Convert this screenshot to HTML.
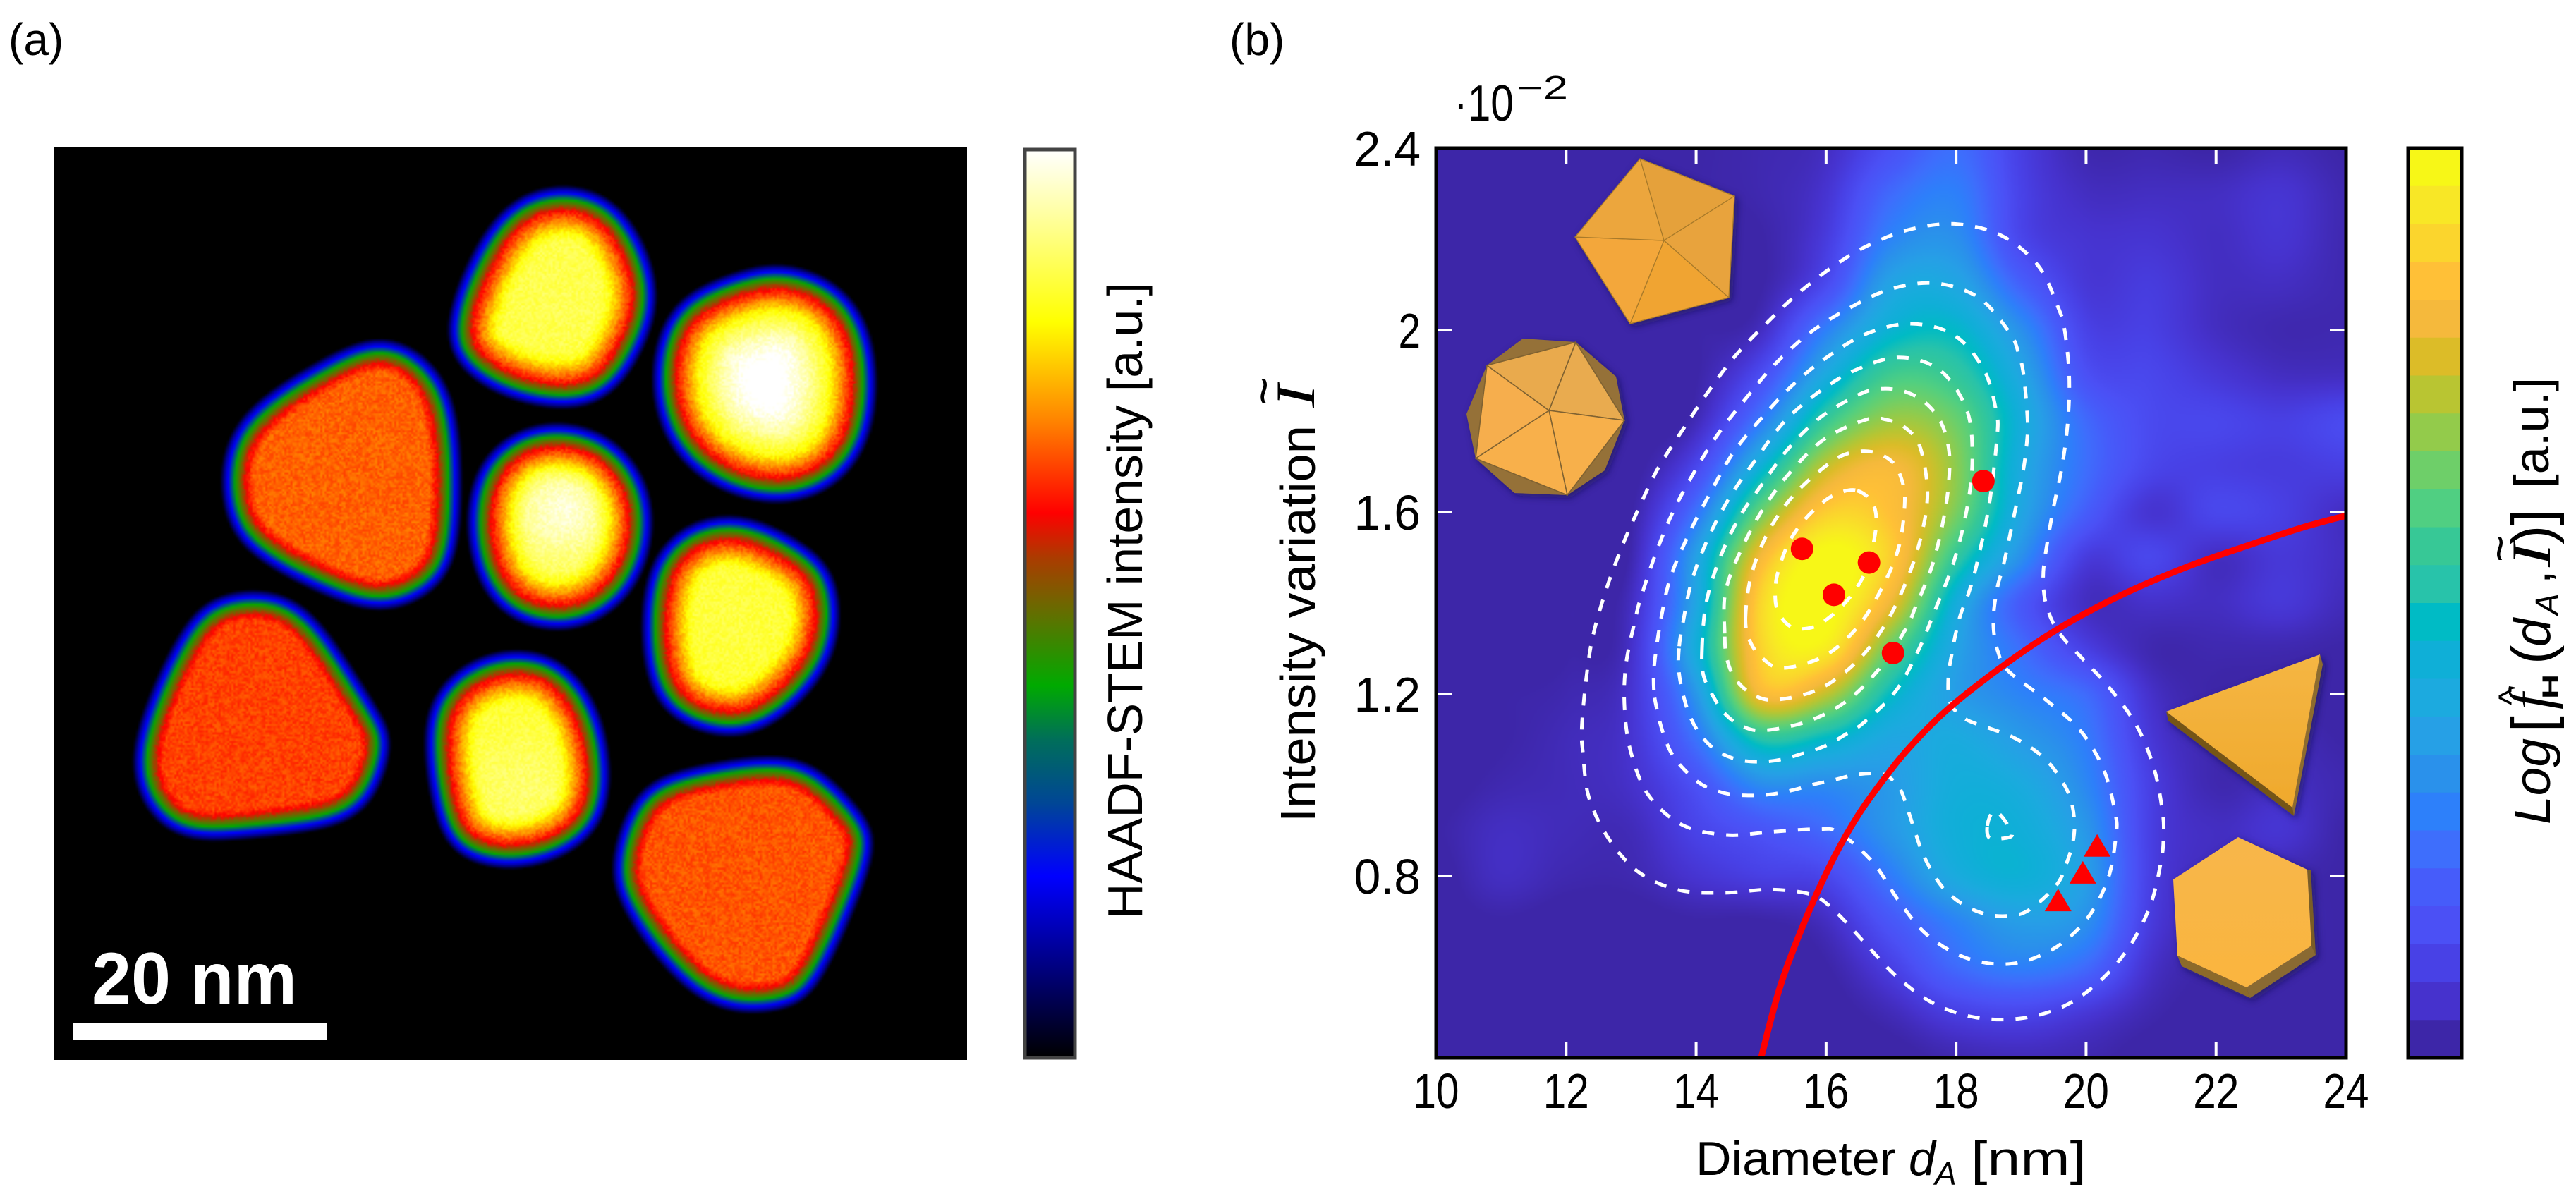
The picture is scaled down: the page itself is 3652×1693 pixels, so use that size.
<!DOCTYPE html>
<html lang="en">
<head>
<meta charset="utf-8">
<title>HAADF-STEM image and density map</title>
<style>
html,body{margin:0;padding:0;background:#fff;}
#page{position:relative;width:3652px;height:1693px;overflow:hidden;background:#fff;}
canvas,svg{position:absolute;display:block;}
text{font-family:"Liberation Sans",sans-serif;fill:#000;}
.mi{font-family:"Liberation Serif",serif;font-style:italic;}
</style>
</head>
<body>
<div id="page">
<canvas id="stem" width="432" height="432" style="left:76px;top:208px;width:1295px;height:1295px"></canvas>
<canvas id="heat" width="645" height="645" style="left:2036px;top:210px;width:1290px;height:1290px"></canvas>
<svg id="chart" width="3652" height="1693" viewBox="0 0 3652 1693" style="left:0;top:0">
<defs>
<linearGradient id="haadfGrad" x1="0" y1="1" x2="0" y2="0">
<stop offset="0" stop-color="#000"/><stop offset=".07" stop-color="#00005a"/><stop offset=".2" stop-color="#0000ff"/><stop offset=".28" stop-color="#004696"/><stop offset=".35" stop-color="#006e5a"/><stop offset=".41" stop-color="#00aa00"/><stop offset=".49" stop-color="#646e00"/><stop offset=".55" stop-color="#aa3c00"/><stop offset=".6" stop-color="#ff0000"/><stop offset=".7" stop-color="#ff8200"/><stop offset=".81" stop-color="#ffff00"/><stop offset=".92" stop-color="#ffff96"/><stop offset="1" stop-color="#fff"/>
</linearGradient>
<linearGradient id="triTop" x1="0" y1="0" x2="0" y2="1"><stop offset="0" stop-color="#f5b644"/><stop offset="1" stop-color="#efa92c"/></linearGradient>
<linearGradient id="hexTop" x1="0" y1="0" x2="0" y2="1"><stop offset="0" stop-color="#f7b64a"/><stop offset="1" stop-color="#fab53f"/></linearGradient>
<filter id="iconShadow" x="-15%" y="-15%" width="130%" height="130%"><feDropShadow dx="4" dy="4" stdDeviation="5" flood-color="#120a40" flood-opacity=".55"/></filter>
</defs>

<text x="12" y="78" font-size="64">(a)</text>
<text x="1743" y="78" font-size="64">(b)</text>

<rect x="104" y="1450" width="359" height="25" fill="#fff"/>
<text x="130" y="1423" font-size="104" font-weight="700" style="fill:#fff" textLength="291" lengthAdjust="spacingAndGlyphs">20 nm</text>

<rect x="1453" y="212" width="71" height="1288" fill="url(#haadfGrad)" stroke="#444" stroke-width="5"/>
<text transform="translate(1619,1303) rotate(-90)" font-size="70" textLength="903" lengthAdjust="spacingAndGlyphs">HAADF-STEM intensity [a.u.]</text>

<g id="contours"></g>
<path id="boundary" fill="none" stroke="#ff0000" stroke-width="9"/>
<g id="markers"></g>

<g filter="url(#iconShadow)" stroke="#a87a2a" stroke-width="1.3" stroke-linejoin="round">
<polygon points="2359,341 2325,225 2459,278" fill="#e5a13a"/>
<polygon points="2359,341 2459,278 2451,422" fill="#e8a33d"/>
<polygon points="2359,341 2451,422 2311,459" fill="#f0a433"/>
<polygon points="2359,341 2311,459 2233,336" fill="#f3a73a"/>
<polygon points="2359,341 2233,336 2325,225" fill="#eca63c"/>
</g>
<g filter="url(#iconShadow)">
<polygon points="2159,480 2234,485 2291,534 2303,596 2275,667 2222,702 2147,699 2092,650 2079,587 2108,518" fill="#957137"/>
<g stroke="#7f6230" stroke-width="1.6" stroke-linejoin="round">
<polygon points="2196,582 2234,485 2303,596" fill="#e9ab4f"/>
<polygon points="2196,582 2303,596 2222,702" fill="#f7b04b"/>
<polygon points="2196,582 2222,702 2092,650" fill="#f8b04c"/>
<polygon points="2196,582 2092,650 2108,518" fill="#f6ae4d"/>
<polygon points="2196,582 2108,518 2234,485" fill="#e9aa4e"/>
</g>
</g>
<g filter="url(#iconShadow)">
<polygon points="3071,1009 3250,1145 3252,1157 3074,1022" fill="#755419"/>
<polygon points="3289,928 3293,942 3252,1157 3250,1145" fill="#8d6c2e"/>
<polygon points="3071,1009 3289,928 3250,1145" fill="url(#triTop)"/>
</g>
<g filter="url(#iconShadow)">
<polygon points="3087,1355 3185,1400 3190,1415 3093,1370" fill="#8c6a2c"/>
<polygon points="3185,1400 3277,1341 3283,1354 3190,1415" fill="#8a6a30"/>
<polygon points="3271,1233 3276,1234 3283,1354 3277,1341" fill="#7a5d28"/>
<polygon points="3173,1187 3271,1233 3277,1341 3185,1400 3087,1355 3081,1247" fill="url(#hexTop)"/>
</g>

<g id="ticks"></g>
<rect x="2036" y="210" width="1290" height="1290" fill="none" stroke="#000" stroke-width="5"/>
<g id="tickLabels"></g>

<g>
<text x="2061" y="171" font-size="72" textLength="85" lengthAdjust="spacingAndGlyphs">·10</text>
<text x="2151" y="140" font-size="46" textLength="72" lengthAdjust="spacingAndGlyphs">−2</text>
</g>
<g>
<text x="2404" y="1666" font-size="68" textLength="284" lengthAdjust="spacingAndGlyphs">Diameter</text>
<text x="2706" y="1666" font-size="68" font-style="italic">d</text>
<text x="2743" y="1680" font-size="46" font-style="italic">A</text>
<text x="2794" y="1666" font-size="68" textLength="164" lengthAdjust="spacingAndGlyphs">[nm]</text>
</g>
<g>
<text transform="translate(1864,1166) rotate(-90)" font-size="70" textLength="563" lengthAdjust="spacingAndGlyphs">Intensity variation</text>
<text class="mi" transform="translate(1863,578) rotate(-90)" font-size="78" textLength="33" lengthAdjust="spacingAndGlyphs">I</text>
<text transform="translate(1815,575) rotate(-90)" font-size="70">~</text>
</g>

<g id="densityBar"></g>
<rect x="3414" y="210" width="76" height="1290" fill="none" stroke="#000" stroke-width="5"/>
<g>
<text transform="translate(3615,1169) rotate(-90)" font-size="72" font-style="italic" textLength="122" lengthAdjust="spacingAndGlyphs">Log</text>
<text transform="translate(3618,1038) rotate(-90)" font-size="82">[</text>
<text class="mi" transform="translate(3615,1006) rotate(-90)" font-size="84">f</text>
<text transform="translate(3577,1000) rotate(-90)" font-size="50">^</text>
<text transform="translate(3627,991) rotate(-90)" font-size="32" font-weight="700" textLength="35" lengthAdjust="spacingAndGlyphs">H</text>
<text transform="translate(3618,942) rotate(-90)" font-size="82">(</text>
<text transform="translate(3615,917) rotate(-90)" font-size="72" font-style="italic">d</text>
<text transform="translate(3627,872) rotate(-90)" font-size="46" font-style="italic">A</text>
<text transform="translate(3615,828) rotate(-90)" font-size="70">,</text>
<text class="mi" transform="translate(3615,804) rotate(-90)" font-size="78" textLength="34" lengthAdjust="spacingAndGlyphs">I</text>
<text transform="translate(3566,797) rotate(-90)" font-size="66">~</text>
<text transform="translate(3618,772) rotate(-90)" font-size="82" textLength="50" lengthAdjust="spacingAndGlyphs">)]</text>
<text transform="translate(3613,692) rotate(-90)" font-size="70" textLength="157" lengthAdjust="spacingAndGlyphs">[a.u.]</text>
</g>
</svg>
</div>

<script>
/* ---------- chart data: panel (b) ---------- */
const xTickValues = [10,12,14,16,18,20,22,24];
const xTickLabels = ["10","12","14","16","18","20","22","24"];
const yTickValues = [2.4,2.0,1.6,1.2,0.8];
const yTickLabels = ["2.4","2","1.6","1.2","0.8"];

const circleDiameters = [18.42,15.63,16.66,16.12,17.03];
const circleIntensities = [1.668,1.519,1.489,1.418,1.29];
const triangleDiameters = [20.17,19.95,19.57];
const triangleIntensities = [0.867,0.808,0.747];

const boundaryDiameters = [15.0,15.3,15.7,16.12,16.5,16.9,17.3,17.9,18.8,19.65,20.58,21.58,22.46,23.33,24.0];
const boundaryIntensities = [0.40,0.56,0.71,0.84,0.935,1.015,1.085,1.17,1.27,1.35,1.42,1.481,1.525,1.566,1.592];

/* colour levels, top of colour bar first */
const colorBands = [[247,247,23],[248,231,38],[251,213,45],[255,192,55],[245,185,60],[220,188,40],[185,197,50],[147,203,75],[110,207,105],[80,207,130],[55,200,150],[40,195,170],[0,187,197],[15,175,215],[28,170,223],[38,160,230],[42,145,235],[45,128,250],[62,110,252],[70,92,250],[75,80,245],[72,65,230],[70,50,205],[61,38,168]];

/* density grid: columns d = 10..24 nm, rows I = 2.4..0.4 (step 0.1) */
const gridDiameters = [10,11,12,13,14,15,16,17,18,19,20,21,22,23,24];
const gridIntensities = [2.4,2.3,2.2,2.1,2.0,1.9,1.8,1.7,1.6,1.5,1.4,1.3,1.2,1.1,1.0,0.9,0.8,0.7,0.6,0.5,0.4];
const densityGrid = [
[.01,.01,.01,.01,.02,.03,.05,.15,.23,.10,.03,.03,.02,.04,.02],
[.01,.01,.01,.01,.02,.03,.07,.22,.27,.11,.05,.05,.05,.07,.03],
[.01,.01,.01,.01,.01,.02,.09,.28,.31,.12,.07,.07,.05,.07,.03],
[.01,.01,.01,.01,.01,.02,.13,.37,.38,.20,.08,.09,.05,.05,.03],
[.01,.01,.01,.01,.02,.05,.27,.45,.47,.31,.11,.10,.05,.03,.03],
[.01,.01,.01,.01,.02,.14,.40,.58,.55,.38,.15,.12,.08,.05,.05],
[.01,.01,.01,.01,.04,.26,.56,.70,.64,.42,.22,.13,.12,.10,.13],
[.01,.01,.01,.01,.12,.44,.74,.82,.68,.40,.23,.12,.10,.09,.10],
[.01,.01,.01,.02,.24,.64,.88,.85,.66,.38,.19,.07,.12,.10,.05],
[.01,.01,.01,.03,.36,.82,1.0,.88,.55,.31,.09,.12,.05,.08,.05],
[.01,.01,.02,.05,.38,.90,1.0,.80,.42,.18,.05,.06,.05,.08,.04],
[.01,.01,.02,.06,.42,.89,.95,.63,.37,.23,.10,.03,.03,.03,.02],
[.01,.02,.03,.07,.33,.82,.74,.48,.35,.28,.22,.06,.02,.02,.01],
[.01,.02,.04,.07,.24,.52,.47,.38,.40,.34,.26,.08,.03,.04,.02],
[.01,.03,.04,.06,.15,.30,.30,.34,.42,.40,.29,.10,.03,.05,.03],
[.02,.05,.04,.04,.11,.16,.22,.33,.43,.43,.33,.10,.05,.07,.02],
[.01,.05,.03,.03,.07,.10,.12,.26,.40,.44,.35,.10,.04,.03,.02],
[.01,.02,.01,.01,.02,.02,.05,.17,.28,.35,.31,.09,.03,.03,.02],
[.01,.01,.01,.01,.01,.01,.02,.10,.22,.27,.22,.06,.02,.02,.02],
[.01,.01,.01,.01,.01,.01,.01,.04,.10,.12,.08,.03,.01,.01,.01],
[.01,.01,.01,.01,.01,.01,.01,.01,.03,.04,.03,.01,.01,.01,.01]
];

/* contour vertices as [diameter, intensity] */
const contourLevel1 = [[12.24,1.122],[12.30,1.222],[12.40,1.319],[12.59,1.418],[12.84,1.517],[13.11,1.606],[13.41,1.695],[13.79,1.780],[14.17,1.861],[14.60,1.943],[15.09,2.016],[15.58,2.082],[16.15,2.144],[16.66,2.187],[17.31,2.222],[18.02,2.233],[18.72,2.206],[19.27,2.140],[19.57,2.050],[19.67,2.0],[19.74,1.90],[19.72,1.80],[19.63,1.70],[19.49,1.603],[19.37,1.503],[19.34,1.455],[19.37,1.406],[19.49,1.357],[19.67,1.319],[19.91,1.283],[20.38,1.21],[20.79,1.127],[21.05,1.034],[21.18,.937],[21.19,.885],[21.16,.837],[21.0,.740],[20.69,.650],[20.25,.574],[19.68,.515],[19.0,.487],[18.30,.489],[17.65,.520],[17.07,.581],[16.59,.654],[16.12,.725],[15.77,.759],[15.14,.770],[14.44,.763],[13.73,.769],[13.11,.809],[12.65,.883],[12.35,.973],[12.26,1.07]];
const contourLevel2 = [[12.90,1.167],[12.92,1.264],[13.07,1.368],[13.15,1.412],[13.38,1.509],[13.65,1.602],[14.0,1.695],[14.36,1.776],[14.79,1.854],[15.2,1.923],[15.74,1.993],[16.34,2.047],[16.99,2.090],[17.69,2.103],[18.35,2.071],[18.82,1.995],[18.96,1.95],[19.04,1.90],[19.10,1.80],[19.08,1.741],[19.02,1.681],[18.88,1.584],[18.73,1.484],[18.64,1.437],[18.58,1.381],[18.58,1.337],[18.64,1.295],[18.80,1.251],[19.39,1.186],[19.91,1.12],[20.27,1.034],[20.45,.937],[20.46,.889],[20.34,.795],[20.02,.707],[19.50,.640],[18.85,.607],[18.17,.619],[17.55,.671],[17.11,.747],[16.72,.830],[16.2,.895],[15.88,.903],[15.17,.897],[14.47,.890],[13.79,.912],[13.27,.977],[13.0,1.07]];
const contourLevel3 = [[13.35,1.209],[13.36,1.268],[13.46,1.365],[13.61,1.458],[13.90,1.555],[14.21,1.640],[14.57,1.730],[15.01,1.807],[15.50,1.881],[16.04,1.943],[16.64,1.993],[17.31,2.014],[17.97,1.989],[18.43,1.912],[18.62,1.819],[18.63,1.764],[18.51,1.617],[18.32,1.486],[18.18,1.416],[18.07,1.375],[17.99,1.330],[17.93,1.285],[17.88,1.236],[17.91,1.181],[18.13,1.146],[18.51,1.125],[18.83,1.108],[19.13,1.084],[19.40,1.053],[19.62,1.011],[19.76,.970],[19.82,.921],[19.80,.876],[19.70,.828],[19.54,.779],[19.11,.724],[18.78,.712],[18.43,.717],[18.10,.738],[17.83,.769],[17.64,.807],[17.48,.852],[17.36,.901],[17.25,.949],[17.14,.991],[16.99,1.015],[16.83,1.025],[16.47,1.023],[16.12,1.011],[15.80,1.001],[15.47,.988],[15.12,.979],[14.76,.977],[14.44,.982],[14.11,.999],[13.83,1.032],[13.62,1.070],[13.49,1.115],[13.40,1.164]];
const contourLevel4 = [[13.74,1.305],[13.79,1.350],[13.93,1.447],[14.19,1.544],[14.52,1.633],[14.93,1.718],[15.36,1.799],[15.88,1.863],[16.45,1.912],[17.12,1.940],[17.75,1.912],[18.16,1.826],[18.25,1.726],[18.18,1.617],[17.97,1.493],[17.69,1.389],[17.42,1.296],[17.07,1.206],[16.58,1.137],[16.31,1.112],[15.99,1.086],[15.66,1.070],[15.31,1.056],[14.98,1.051],[14.63,1.056],[14.30,1.077],[14.06,1.112],[13.90,1.153],[13.79,1.205],[13.73,1.257]];
const contourLevel5 = [[14.09,1.298],[14.15,1.396],[14.34,1.489],[14.64,1.582],[15.01,1.660],[15.44,1.743],[15.94,1.811],[16.55,1.861],[16.88,1.871],[17.23,1.864],[17.53,1.840],[17.75,1.802],[17.87,1.753],[17.90,1.695],[17.83,1.602],[17.64,1.486],[17.37,1.389],[17.23,1.344],[16.85,1.261],[16.34,1.187],[15.74,1.141],[15.06,1.120],[14.71,1.129],[14.44,1.157],[14.25,1.198],[14.11,1.243]];
const contourLevel6 = [[14.44,1.333],[14.45,1.423],[14.68,1.513],[15.04,1.609],[15.47,1.691],[15.98,1.761],[16.61,1.803],[16.93,1.803],[17.23,1.784],[17.45,1.741],[17.56,1.640],[17.45,1.540],[17.21,1.439],[16.88,1.346],[16.45,1.268],[15.88,1.210],[15.22,1.187],[14.87,1.199],[14.60,1.234],[14.47,1.280]];
const contourLevel7 = [[14.76,1.369],[14.85,1.462],[15.12,1.559],[15.52,1.640],[16.04,1.706],[16.37,1.730],[16.72,1.732],[17.02,1.710],[17.17,1.668],[17.21,1.617],[17.12,1.524],[16.88,1.439],[16.50,1.350],[15.98,1.284],[15.33,1.257],[15.01,1.280],[14.82,1.319]];
const contourLevel8 = [[16.45,1.648],[16.12,1.637],[15.85,1.609],[15.60,1.571],[15.41,1.528],[15.28,1.478],[15.22,1.435],[15.25,1.385],[15.47,1.347],[15.80,1.347],[16.09,1.373],[16.34,1.408],[16.53,1.447],[16.66,1.489],[16.77,1.571],[16.71,1.621]];
const contourLevel9 = [[18.48,.910],[18.56,.941],[18.66,.937],[18.79,.913],[18.86,.889],[18.69,.882],[18.51,.884]];
const contourSeries = [contourLevel1,contourLevel2,contourLevel3,contourLevel4,contourLevel5,contourLevel6,contourLevel7,contourLevel8,contourLevel9];

/* axis functions */
const plotLeft = 2036, plotRight = 3326, plotTop = 210, plotBottom = 1500;
const xDomain = [10,24], yDomain = [0.4,2.4];
function xScale(v){ return plotLeft + (v - xDomain[0]) / (xDomain[1] - xDomain[0]) * (plotRight - plotLeft); }
function yScale(v){ return plotBottom - (v - yDomain[0]) / (yDomain[1] - yDomain[0]) * (plotBottom - plotTop); }

const NS = 'http://www.w3.org/2000/svg';
function make(tag, attrs, parent){
  const el = document.createElementNS(NS, tag);
  for (const k in attrs) el.setAttribute(k, attrs[k]);
  parent.appendChild(el);
  return el;
}
function splinePath(pts, closed){
  const n = pts.length;
  const at = i => closed ? pts[(i + n) % n] : pts[Math.max(0, Math.min(n - 1, i))];
  let d = 'M' + pts[0][0].toFixed(1) + ' ' + pts[0][1].toFixed(1);
  const last = closed ? n : n - 1;
  for (let i = 0; i < last; i++){
    const p0 = at(i-1), p1 = at(i), p2 = at(i+1), p3 = at(i+2);
    d += 'C' + (p1[0] + (p2[0]-p0[0])/6).toFixed(1) + ' ' + (p1[1] + (p2[1]-p0[1])/6).toFixed(1) + ' ' +
         (p2[0] - (p3[0]-p1[0])/6).toFixed(1) + ' ' + (p2[1] - (p3[1]-p1[1])/6).toFixed(1) + ' ' +
         p2[0].toFixed(1) + ' ' + p2[1].toFixed(1);
  }
  return d + (closed ? 'Z' : '');
}

/* heatmap */
function bandColor(v){
  const f = Math.max(0, Math.min(1, v)) * colorBands.length - 0.5;
  const pos = colorBands.length - 1 - f;
  const a = Math.max(0, Math.min(colorBands.length - 1, Math.floor(pos)));
  const b = Math.min(colorBands.length - 1, a + 1);
  const t = Math.max(0, Math.min(1, pos - a));
  return [0,1,2].map(c => colorBands[a][c] + (colorBands[b][c] - colorBands[a][c]) * t);
}
function cubic(a,b,c,d,t){ return 0.5*(2*b + (c-a)*t + (2*a-5*b+4*c-d)*t*t + (-a+3*b-3*c+d)*t*t*t); }
function gridValue(r,c){
  const rr = Math.max(0, Math.min(gridIntensities.length-1, r));
  const cc = Math.max(0, Math.min(gridDiameters.length-1, c));
  return densityGrid[rr][cc];
}
function sampleDensity(fc, fr){
  const c = Math.floor(fc), r = Math.floor(fr), tc = fc - c, tr = fr - r;
  const rows = [];
  for (let j = -1; j <= 2; j++){
    rows.push(cubic(gridValue(r+j,c-1), gridValue(r+j,c), gridValue(r+j,c+1), gridValue(r+j,c+2), tc));
  }
  return cubic(rows[0], rows[1], rows[2], rows[3], tr);
}
(function drawHeat(){
  const cv = document.getElementById('heat'), ctx = cv.getContext('2d');
  const img = ctx.createImageData(cv.width, cv.height);
  const nc = gridDiameters.length - 1, nr = gridIntensities.length - 1;
  for (let j = 0; j < cv.height; j++){
    const fr = (j + 0.5) / cv.height * nr;
    for (let i = 0; i < cv.width; i++){
      const fc = (i + 0.5) / cv.width * nc;
      const rgb = bandColor(sampleDensity(fc, fr));
      const k = (j * cv.width + i) * 4;
      img.data[k] = rgb[0]; img.data[k+1] = rgb[1]; img.data[k+2] = rgb[2]; img.data[k+3] = 255;
    }
  }
  ctx.putImageData(img, 0, 0);
})();

/* contours */
const contourGroup = document.getElementById('contours');
contourSeries.forEach(function(series){
  const pts = series.map(p => [xScale(p[0]), yScale(p[1])]);
  const el = make('path', {d: splinePath(pts, true), fill:'none', stroke:'#fff', 'stroke-width':5, 'stroke-dasharray':'17 17'}, contourGroup);
  
  
});

/* boundary */
document.getElementById('boundary').setAttribute('d', splinePath(boundaryDiameters.map((d,i) => [xScale(d), yScale(boundaryIntensities[i])]), false));

/* markers */
const markerGroup = document.getElementById('markers');
circleDiameters.forEach(function(d,i){
  const el = make('circle', {cx:xScale(d), cy:yScale(circleIntensities[i]), r:16, fill:'#ff0000'}, markerGroup);
  
  
});
triangleDiameters.forEach(function(d,i){
  const cx = xScale(d), cy = yScale(triangleIntensities[i]);
  const el = make('polygon', {points:[[cx,cy-16],[cx+19,cy+16],[cx-19,cy+16]].map(p => p.join(',')).join(' '), fill:'#ff0000'}, markerGroup);
  
  
});

/* ticks */
const tickGroup = document.getElementById('ticks');
const tickLabelGroup = document.getElementById('tickLabels');
xTickValues.forEach(function(v,i){
  const x = xScale(v);
  if (v > xDomain[0] && v < xDomain[1]){
    [[plotTop, plotTop+22],[plotBottom, plotBottom-22]].forEach(function(s){
      const t = make('line', {x1:x, x2:x, y1:s[0], y2:s[1], stroke:'#fff', 'stroke-width':4}, tickGroup);
      
      
    });
  }
  const lab = make('text', {x:x, y:1571, 'font-size':70, 'text-anchor':'middle', textLength:xTickLabels[i].length*32.5, lengthAdjust:'spacingAndGlyphs'}, tickLabelGroup);
  lab.textContent = xTickLabels[i];
  
  
});
yTickValues.forEach(function(v,i){
  const y = yScale(v);
  [[plotLeft, plotLeft+23],[plotRight, plotRight-23]].forEach(function(s){
    const t = make('line', {x1:s[0], x2:s[1], y1:y, y2:y, stroke:'#fff', 'stroke-width':4}, tickGroup);
    
    
  });
  const lab = make('text', {x:2014, y:y+25, 'font-size':70, 'text-anchor':'end', textLength:yTickLabels[i].length*31.5, lengthAdjust:'spacingAndGlyphs'}, tickLabelGroup);
  lab.textContent = yTickLabels[i];
  
  
});

/* density colour bar */
const barGroup = document.getElementById('densityBar');
colorBands.forEach(function(c,i){
  const h = (plotBottom - plotTop) / colorBands.length;
  const el = make('rect', {x:3414, y:plotTop + i*h, width:76, height:h+0.6, fill:'rgb(' + c.join(',') + ')'}, barGroup);
  
  
});

/* ---------- panel (a): HAADF-STEM raster ---------- */
const traceScaleX = 1 / 0.9224, traceScaleY = 1 / 0.926;
const imageOriginX = 76, imageOriginY = 208, imagePixel = 3;
const outlineGrowth = 4;
const particles = [
 {plateau:.85, bumps:[[730,390,.02,90]], outline:[[730,248],[790,262],[830,310],[855,385],[835,450],[795,515],[730,530],[650,510],[600,470],[590,420],[620,340],[665,270]]},
 {plateau:1.0, bumps:[[1005,485,.03,60]], outline:[[1020,350],[1090,375],[1130,430],[1140,510],[1125,590],[1075,640],[1010,655],[940,635],[885,590],[858,520],[865,440],[900,390],[960,365]]},
 {plateau:.675, bumps:[], outline:[[490,445],[550,470],[590,530],[595,640],[590,730],[555,775],[495,797],[430,775],[340,730],[300,680],[295,600],[330,535],[420,480]]},
 {plateau:.87, bumps:[[735,670,.1,40]], outline:[[730,560],[790,575],[835,625],[848,690],[830,760],[785,805],[730,822],[665,805],[625,750],[615,670],[635,605],[680,570]]},
 {plateau:.84, bumps:[[955,810,.02,60]], outline:[[955,675],[1030,710],[1080,745],[1092,810],[1075,880],[1010,945],[950,962],[885,940],[850,890],[845,790],[870,710]]},
 {plateau:.65, bumps:[], outline:[[340,780],[395,800],[440,860],[490,940],[505,975],[485,1040],[440,1080],[330,1090],[250,1098],[200,1065],[178,1010],[190,940],[240,830],[280,790]]},
 {plateau:.84, bumps:[[680,1030,.05,55]], outline:[[680,858],[735,875],[775,930],[790,1000],[785,1070],[740,1115],[670,1135],[605,1120],[575,1075],[560,980],[570,915],[620,870]]},
 {plateau:.665, bumps:[], outline:[[1010,995],[1070,1015],[1120,1070],[1140,1110],[1105,1200],[1065,1290],[1030,1315],[980,1323],[920,1310],[860,1250],[815,1180],[805,1130],[835,1040],[900,1015]]}
];
const edgeDistances = [-7,0,5,14,30,45,62,95,135];
const edgeIntensities = [0,.13,.2,.41,.6,.7,.81,.92,1];
const haadfColors = [[0,0,0,0],[.07,0,0,90],[.2,0,0,255],[.28,0,70,150],[.35,0,110,90],[.41,0,170,0],[.49,100,110,0],[.55,170,60,0],[.6,255,0,0],[.7,255,130,0],[.81,255,255,0],[.92,255,255,150],[1,255,255,255]];
function lerpTable(xs, ys, x){
  if (x <= xs[0]) return ys[0];
  for (let i = 1; i < xs.length; i++){ if (x <= xs[i]) return ys[i-1] + (ys[i]-ys[i-1])*(x-xs[i-1])/(xs[i]-xs[i-1]); }
  return ys[ys.length-1];
}
function haadfColor(v, out){
  v = Math.max(0, Math.min(1, v));
  for (let i = 1; i < haadfColors.length; i++){
    if (v <= haadfColors[i][0]){
      const a = haadfColors[i-1], b = haadfColors[i], t = (v-a[0])/(b[0]-a[0]);
      out[0]=a[1]+(b[1]-a[1])*t; out[1]=a[2]+(b[2]-a[2])*t; out[2]=a[3]+(b[3]-a[3])*t;
      return;
    }
  }
}
function grain(i,j){ const s = Math.sin(i*127.1 + j*311.7) * 43758.5453; return (s - Math.floor(s)) - 0.5; }
function smoothLoop(poly, radius){
  const n = poly.length;
  return poly.map(function(_, i){
    let sx = 0, sy = 0;
    for (let k = -radius; k <= radius; k++){
      const q = poly[(i+k+n)%n];
      sx += q[0]; sy += q[1];
    }
    return [sx/(2*radius+1), sy/(2*radius+1)];
  });
}
(function drawStem(){
  const cv = document.getElementById('stem'), ctx = cv.getContext('2d');
  const W = cv.width, H = cv.height;
  const img = ctx.createImageData(W, H);
  const buf = img.data;
  for (let k = 3; k < buf.length; k += 4) buf[k] = 255;
  const col = [0,0,0];
  particles.forEach(function(p){
    const raw = p.outline.map(q => [(q[0]*traceScaleX - imageOriginX)/imagePixel, (q[1]*traceScaleY - imageOriginY)/imagePixel]);
    const n = raw.length;
    let poly = [];
    for (let i = 0; i < n; i++){
      const a = raw[(i-1+n)%n], b = raw[i], c = raw[(i+1)%n], d = raw[(i+2)%n];
      for (let s = 0; s < 6; s++){
        const t = s/6;
        poly.push([cubic(a[0],b[0],c[0],d[0],t), cubic(a[1],b[1],c[1],d[1],t)]);
      }
    }
    poly = smoothLoop(smoothLoop(poly, 3), 3);
    let x0=1e9,x1=-1e9,y0=1e9,y1=-1e9;
    poly.forEach(q => {x0=Math.min(x0,q[0]);x1=Math.max(x1,q[0]);y0=Math.min(y0,q[1]);y1=Math.max(y1,q[1]);});
    const bumps = p.bumps.map(b => [(b[0]*traceScaleX-imageOriginX)/imagePixel, (b[1]*traceScaleY-imageOriginY)/imagePixel, b[2], b[3]*traceScaleX/imagePixel]);
    for (let j = Math.max(0,Math.floor(y0)-5); j <= Math.min(H-1,Math.ceil(y1)+5); j++){
      for (let i = Math.max(0,Math.floor(x0)-5); i <= Math.min(W-1,Math.ceil(x1)+5); i++){
        let best = 1e12, inside = false;
        for (let s = 0, e = poly.length-1; s < poly.length; e = s++){
          const ax=poly[e][0], ay=poly[e][1], bx=poly[s][0], by=poly[s][1];
          if ((by>j)!==(ay>j) && i < (ax-bx)*(j-by)/(ay-by)+bx) inside = !inside;
          const dx=bx-ax, dy=by-ay;
          let t=((i-ax)*dx+(j-ay)*dy)/(dx*dx+dy*dy);
          t=t<0?0:t>1?1:t;
          const qx=ax+t*dx-i, qy=ay+t*dy-j, dd=qx*qx+qy*qy;
          if (dd<best) best=dd;
        }
        const dist = Math.sqrt(best)*imagePixel*(inside?1:-1) + outlineGrowth;
        if (dist < -7) continue;
        let v = Math.min(lerpTable(edgeDistances, edgeIntensities, dist), p.plateau);
        bumps.forEach(function(b){
          const r2 = (i-b[0])*(i-b[0]) + (j-b[1])*(j-b[1]);
          v += b[2]*Math.exp(-r2/(2*b[3]*b[3]));
        });
        if (dist > 22) v += grain(i,j)*0.05;
        haadfColor(v, col);
        const k = (j*W+i)*4;
        buf[k]=Math.max(buf[k],col[0]); buf[k+1]=Math.max(buf[k+1],col[1]); buf[k+2]=Math.max(buf[k+2],col[2]);
      }
    }
  });
  ctx.putImageData(img,0,0);
})();
</script>
</body>
</html>
